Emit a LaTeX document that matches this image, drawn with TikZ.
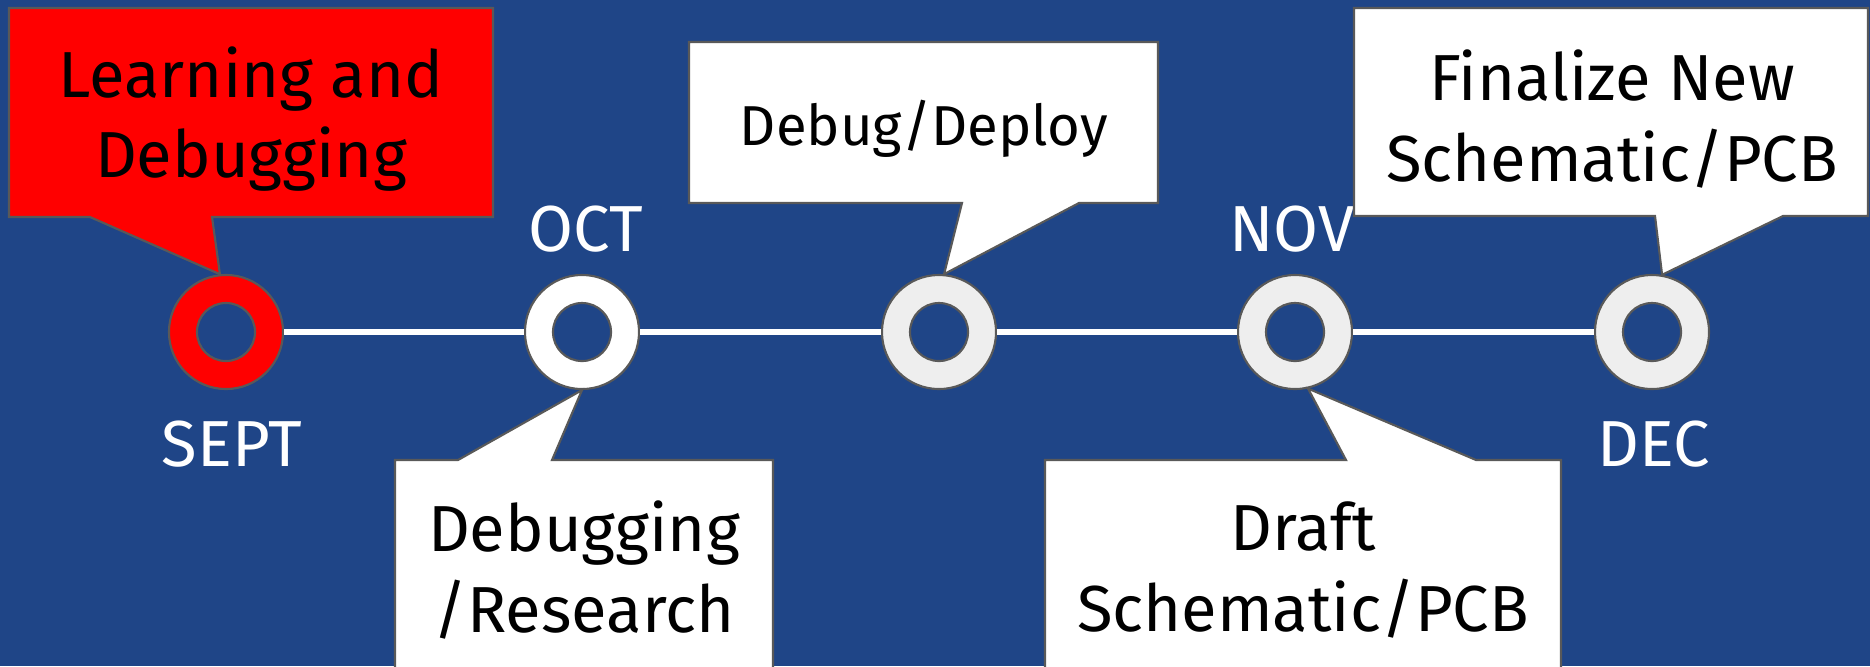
\documentclass[tikz,border=0pt]{standalone}
\usepackage{fontspec}
\setmainfont{Fira Sans}
\usepackage{tikz}
\usetikzlibrary{positioning}

\definecolor{bgblue}{RGB}{31,69,135}
\definecolor{edgegray}{RGB}{89,89,89}
\definecolor{ringgray}{RGB}{238,238,238}

\tikzset{
  ring/.style={circle,draw=edgegray,line width=0.6pt,minimum size=1.14cm,inner sep=0pt},
  hole/.style={circle,draw=edgegray,line width=0.6pt,fill=bgblue,minimum size=0.58cm,inner sep=0pt},
  callout/.style={draw=edgegray,line width=0.6pt,fill=white},
  boxtext/.style={align=center,font=\fontsize{18.5}{23}\selectfont,text=black},
  month/.style={font=\fontsize{18.5}{23}\selectfont,text=white},
  tline/.style={draw=white,line width=1.5pt},
}

\begin{document}
\begin{tikzpicture}[x=0.01cm,y=-0.01cm]
\fill[bgblue] (0,0) rectangle (1870,666);
\clip (0,0) rectangle (1870,666);
% timeline
\node[ring,fill=red] (sept) at (226,332) {};
\node[ring,fill=white] (oct) at (582,332) {};
\node[ring,fill=ringgray] (mid) at (939,332) {};
\node[ring,fill=ringgray] (nov) at (1295,332) {};
\node[ring,fill=ringgray] (dec) at (1652,332) {};
\draw[tline] (sept) -- (oct);
\draw[tline] (oct) -- (mid);
\draw[tline] (mid) -- (nov);
\draw[tline] (nov) -- (dec);
\node[hole] (hsept) at (sept) {};
\node[hole] (hoct) at (oct) {};
\node[hole] (hmid) at (mid) {};
\node[hole] (hnov) at (nov) {};
\node[hole] (hdec) at (dec) {};
% months
\node[month] (lsept) at (232,444) {SEPT};
\node[month] (loct) at (586,229) {OCT};
\node[month] (lnov) at (1292,229) {NOV};
\node[month] (ldec) at (1654,444) {DEC};
% callouts
\draw[callout,fill=red] (9,8) -- (493,8) -- (493,217) -- (212,217) -- (sept.96) -- (90,217) -- (9,217) -- cycle;
\node[boxtext] (learn) at (251,119) {Learning and\\Debugging};
\draw[callout] (689,42) -- (1158,42) -- (1158,203) -- (1079,203) -- (mid.85) -- (962,203) -- (689,203) -- cycle;
\node[boxtext,font=\fontsize{16}{19}\selectfont] (deploy) at (924,129) {Debug/Deploy};
\draw[callout] (1354,8) -- (1868,8) -- (1868,216) -- (1783,216) -- (dec.80) -- (1655,216) -- (1354,216) -- cycle;
\node[boxtext] (final) at (1612,119) {Finalize New\\Schematic/PCB};
\draw[callout] (395,460) -- (458,460) -- (oct.south) -- (552,460) -- (773,460) -- (773,690) -- (395,690) -- cycle;
\node[boxtext] (research) at (584,570) {Debugging\\/Research};
\draw[callout] (1045,460) -- (1346,460) -- (nov.-77) -- (1476,460) -- (1561,460) -- (1561,690) -- (1045,690) -- cycle;
\node[boxtext] (draft) at (1303,570) {Draft\\Schematic/PCB};
\end{tikzpicture}
\end{document}
